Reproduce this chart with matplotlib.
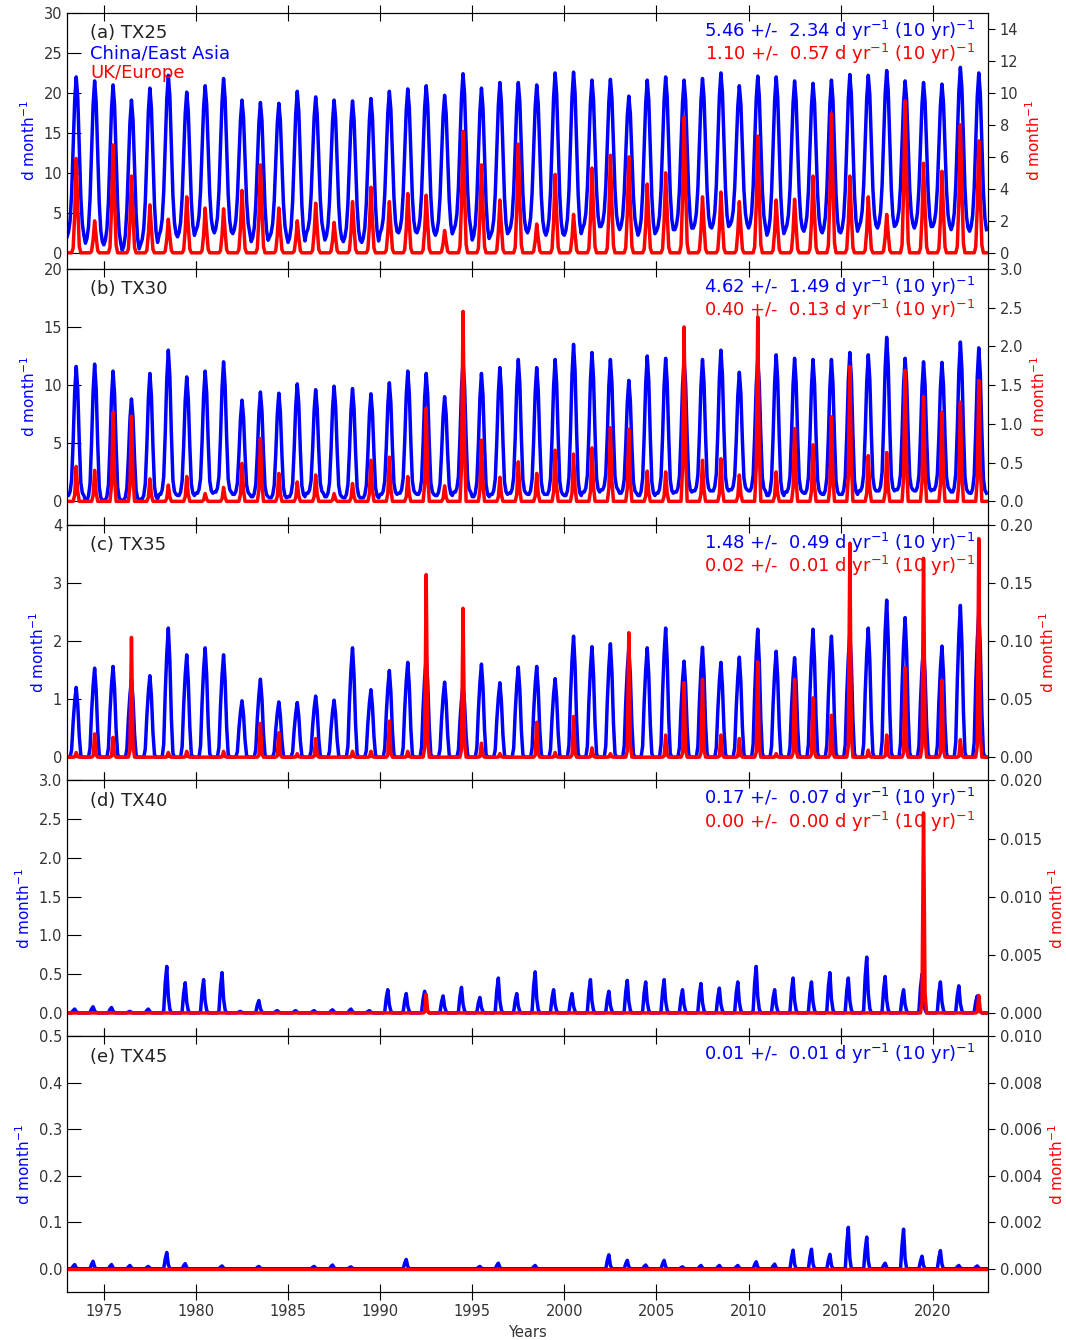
import numpy as np
import matplotlib
matplotlib.use("Agg")
import matplotlib.pyplot as plt
from matplotlib.ticker import FormatStrFormatter

years = np.arange(1973, 2023)

# annual summer maxima / winter minima (d month-1)
tx25_cea_peak = [22.0, 21.5, 21.0, 19.1, 20.6, 22.2, 20.1, 20.9, 21.8, 19.1,
                 18.8, 18.7, 20.2, 19.5, 19.1, 19.0, 19.3, 20.2, 20.5, 20.9,
                 19.7, 22.4, 20.6, 21.3, 21.3, 21.0, 22.5, 22.6, 21.6, 21.7,
                 19.6, 21.6, 22.0, 21.6, 21.8, 22.5, 20.9, 22.1, 22.0, 21.5,
                 21.2, 21.6, 22.3, 22.2, 22.8, 21.5, 21.3, 21.1, 23.2, 22.5]
tx25_cea_low = [2.0, 1.2, 1.0, 0.3, 1.1, 2.2, 2.0, 2.8, 2.5, 2.4,
                1.4, 2.0, 1.3, 2.5, 1.6, 1.4, 1.3, 2.5, 2.5, 2.5,
                2.2, 2.9, 1.6, 2.2, 2.7, 2.5, 2.2, 2.2, 3.1, 3.3,
                2.9, 2.2, 2.7, 2.9, 3.1, 3.1, 3.5, 3.1, 2.2, 2.9,
                2.7, 2.5, 2.5, 3.3, 3.1, 3.5, 3.1, 3.3, 2.9, 2.7]
tx25_uke_peak = [5.9, 2.0, 6.75, 4.8, 3.0, 2.1, 3.5, 2.8, 2.75, 3.9,
                 5.5, 2.8, 2.0, 3.1, 1.9, 3.2, 4.1, 3.2, 3.7, 3.6,
                 1.4, 7.6, 5.5, 3.3, 6.8, 1.8, 4.9, 2.4, 5.3, 6.1,
                 6.0, 4.3, 5.0, 8.5, 3.5, 3.8, 3.2, 7.3, 3.3, 3.35,
                 4.8, 8.7, 4.8, 3.5, 2.4, 9.5, 5.6, 5.1, 8.0, 7.0]

tx30_cea_peak = [11.6, 11.8, 11.2, 8.8, 11.0, 13.0, 10.7, 11.2, 12.0, 8.7,
                 9.4, 9.3, 10.1, 9.6, 9.9, 9.7, 9.25, 10.2, 11.2, 11.0,
                 9.0, 12.0, 11.0, 11.5, 12.2, 11.5, 12.2, 13.5, 12.8, 12.2,
                 10.4, 12.5, 12.3, 12.2, 12.2, 13.0, 11.1, 12.2, 12.6, 12.3,
                 12.2, 12.2, 12.8, 12.6, 14.1, 12.3, 12.0, 11.95, 13.7, 13.2]
tx30_cea_low = [0.5, 0.1, 0.1, 0.1, 0.2, 0.6, 0.5, 0.7, 0.8, 0.6,
                0.4, 0.3, 0.4, 0.7, 0.4, 0.3, 0.3, 0.6, 0.7, 0.6,
                0.5, 0.8, 0.4, 0.6, 0.7, 0.6, 0.6, 0.5, 0.8, 1.0,
                0.7, 0.5, 0.7, 0.8, 0.9, 0.9, 1.0, 0.9, 0.5, 0.8,
                0.7, 0.6, 0.6, 0.9, 0.9, 1.0, 0.9, 1.0, 0.8, 0.7]
tx30_uke_peak = [0.45, 0.40, 1.15, 1.1, 0.29, 0.21, 0.32, 0.1, 0.18, 0.49,
                 0.81, 0.36, 0.25, 0.34, 0.1, 0.23, 0.53, 0.57, 0.32, 1.2,
                 0.2, 2.45, 0.79, 0.31, 0.51, 0.36, 0.66, 0.61, 0.69, 0.95,
                 0.93, 0.39, 0.38, 2.25, 0.53, 0.55, 0.34, 2.38, 0.38, 0.94,
                 0.73, 1.09, 1.74, 0.59, 0.63, 1.69, 1.35, 1.15, 1.28, 1.56]

tx35_cea_peak = [1.2, 1.53, 1.56, 1.34, 1.4, 2.22, 1.76, 1.88, 1.76, 0.97,
                 1.34, 0.95, 0.94, 1.05, 0.98, 1.88, 1.16, 1.49, 1.63, 1.71,
                 1.29, 1.24, 1.6, 1.28, 1.55, 1.56, 1.35, 2.08, 1.9, 1.95,
                 1.88, 1.88, 2.22, 1.65, 1.89, 1.63, 1.72, 2.2, 1.82, 1.71,
                 2.2, 2.08, 2.14, 2.22, 2.7, 2.4, 1.91, 1.91, 2.61, 2.5]
tx35_uke_peak = [0.004, 0.02, 0.017, 0.103, 0.0, 0.004, 0.005, 0.0, 0.005, 0.0,
                 0.029, 0.021, 0.003, 0.016, 0.0, 0.005, 0.005, 0.031, 0.005, 0.157,
                 0.0, 0.128, 0.012, 0.003, 0.0, 0.03, 0.004, 0.035, 0.008, 0.003,
                 0.107, 0.0, 0.019, 0.064, 0.067, 0.019, 0.016, 0.082, 0.003, 0.067,
                 0.051, 0.036, 0.184, 0.006, 0.019, 0.077, 0.171, 0.066, 0.015, 0.188]

tx40_cea_peak = [0.05, 0.08, 0.07, 0.02, 0.05, 0.6, 0.39, 0.43, 0.52, 0.02,
                 0.16, 0.03, 0.03, 0.03, 0.04, 0.05, 0.03, 0.3, 0.25, 0.28,
                 0.22, 0.33, 0.2, 0.45, 0.25, 0.53, 0.3, 0.25, 0.43, 0.28,
                 0.42, 0.4, 0.43, 0.3, 0.38, 0.32, 0.4, 0.6, 0.3, 0.45,
                 0.4, 0.52, 0.45, 0.72, 0.47, 0.3, 0.5, 0.4, 0.35, 0.22]
tx40_uke_peak = [0.0, 0.0, 0.0, 0.0, 0.0, 0.0, 0.0, 0.0, 0.0, 0.0,
                 0.0, 0.0, 0.0, 0.0, 0.0, 0.0, 0.0, 0.0, 0.0, 0.0016,
                 0.0, 0.0, 0.0, 0.0, 0.0, 0.0, 0.0, 0.0, 0.0, 0.0,
                 0.0, 0.0, 0.0, 0.0, 0.0, 0.0, 0.0, 0.0, 0.0, 0.0,
                 0.0, 0.0, 0.0, 0.0, 0.0, 0.0, 0.0172, 0.0, 0.0, 0.0015]

tx45_cea_peak = [0.009, 0.016, 0.009, 0.007, 0.005, 0.035, 0.011, 0.0, 0.006, 0.0,
                 0.005, 0.0, 0.0, 0.005, 0.008, 0.004, 0.0, 0.0, 0.02, 0.0,
                 0.0, 0.0, 0.005, 0.012, 0.0, 0.007, 0.0, 0.0, 0.0, 0.03,
                 0.018, 0.008, 0.018, 0.004, 0.007, 0.007, 0.007, 0.015, 0.01, 0.04,
                 0.042, 0.031, 0.089, 0.068, 0.012, 0.085, 0.027, 0.039, 0.007, 0.006]
tx45_uke_peak = [0.0] * 50

# seasonal cycle (Jan..Dec, fraction of the summer maximum)
season_tx25_cea = [0, 0.03, 0.1, 0.27, 0.55, 0.85, 1.0, 0.87, 0.55, 0.25, 0.08, 0.01]
season_tx30_cea = [0, 0, 0.03, 0.12, 0.42, 0.8, 1.0, 0.82, 0.42, 0.1, 0.02, 0]
season_tx35_cea = [0, 0, 0, 0.1, 0.5, 0.8, 1.0, 0.75, 0.3, 0.03, 0, 0]
season_tx40_cea = [0, 0, 0, 0.05, 0.65, 1.0, 0.35, 0.08, 0, 0, 0, 0]
season_tx45_cea = [0, 0, 0, 0, 0.6, 1.0, 0.25, 0, 0, 0, 0, 0]
season_tx25_uke = [0, 0, 0, 0, 0.05, 0.4, 1.0, 0.5, 0.07, 0, 0, 0]
season_tx30_uke = [0, 0, 0, 0, 0, 0.18, 1.0, 0.28, 0, 0, 0, 0]
season_tx35_uke = [0, 0, 0, 0, 0, 0.05, 1.0, 0.1, 0, 0, 0, 0]

trend_cea = ["5.46 +/-  2.34", "4.62 +/-  1.49", "1.48 +/-  0.49",
             "0.17 +/-  0.07", "0.01 +/-  0.01"]
trend_uke = ["1.10 +/-  0.57", "0.40 +/-  0.13", "0.02 +/-  0.01",
             "0.00 +/-  0.00", None]
titles = ["(a) TX25", "(b) TX30", "(c) TX35", "(d) TX40", "(e) TX45"]


def monthly(peaks, season, low=None):
    out = []
    for i, p in enumerate(peaks):
        b = 0.0 if low is None else low[i]
        out.extend(b + (p - b) * s for s in season)
    return np.array(out)


t = np.repeat(years, 12) + np.tile(np.arange(12), len(years)) / 12.0

cea = [monthly(tx25_cea_peak, season_tx25_cea, tx25_cea_low),
       monthly(tx30_cea_peak, season_tx30_cea, tx30_cea_low),
       monthly(tx35_cea_peak, season_tx35_cea),
       monthly(tx40_cea_peak, season_tx40_cea),
       monthly(tx45_cea_peak, season_tx45_cea)]
uke = [monthly(tx25_uke_peak, season_tx25_uke),
       monthly(tx30_uke_peak, season_tx30_uke),
       monthly(tx35_uke_peak, season_tx35_uke),
       monthly(tx40_uke_peak, season_tx35_uke),
       monthly(tx45_uke_peak, season_tx35_uke)]

left_lim = [(-2, 30), (-2, 20), (-0.4, 4), (-0.3, 3.0), (-0.05, 0.5)]
left_ticks = [np.arange(0, 31, 5), np.arange(0, 21, 5), np.arange(0, 5, 1),
              np.arange(0, 3.01, 0.5), np.arange(0, 0.501, 0.1)]
left_fmt = ["%d", "%d", "%d", "%.1f", "%.1f"]
right_lim = [(-1, 15), (-0.3, 3.0), (-0.02, 0.2), (-0.002, 0.02), (-0.001, 0.01)]
right_ticks = [np.arange(0, 15, 2), np.arange(0, 3.01, 0.5), np.arange(0, 0.201, 0.05),
               np.arange(0, 0.0201, 0.005), np.arange(0, 0.01001, 0.002)]
right_fmt = ["%d", "%.1f", "%.2f", "%.3f", "%.3f"]

fig = plt.figure(figsize=(10.66, 13.4), dpi=100)
x0, w = 67 / 1066, 921 / 1066
top, bot = 1 - 13 / 1340, 1 - 1292 / 1340
h = (top - bot) / 5
tc = "#333333"
lw = 2.5

for i in range(5):
    ax = fig.add_axes([x0, top - (i + 1) * h, w, h])
    ax.plot(t, cea[i], color="blue", lw=lw)
    ax.set_xlim(1973, 2023)
    ax.set_ylim(*left_lim[i])
    ax.set_yticks(left_ticks[i])
    ax.yaxis.set_major_formatter(FormatStrFormatter(left_fmt[i]))
    ax.set_xticks(np.arange(1975, 2021, 5))
    ax.tick_params(axis="x", direction="inout", length=11, top=True, bottom=True,
                   labelsize=10.5, labelcolor=tc)
    ax.tick_params(axis="y", direction="in", length=10, labelsize=10.5, labelcolor=tc)
    if i < 4:
        ax.tick_params(axis="x", labelbottom=False)
    ax.set_ylabel("d month$^{-1}$", color="blue", fontsize=11)

    ax2 = ax.twinx()
    ax2.plot(t, uke[i], color="red", lw=lw)
    ax2.set_ylim(*right_lim[i])
    ax2.set_yticks(right_ticks[i])
    ax2.yaxis.set_major_formatter(FormatStrFormatter(right_fmt[i]))
    ax2.tick_params(axis="y", direction="out", length=5, labelsize=10.5, labelcolor=tc)
    ax2.set_ylabel("d month$^{-1}$", color="red", fontsize=11)

    ax.text(0.025, 0.92, titles[i], transform=ax.transAxes, fontsize=13,
            color="#222222", va="center")
    ax.text(0.986, 0.93, trend_cea[i] + " d yr$^{-1}$ (10 yr)$^{-1}$",
            transform=ax.transAxes, fontsize=13, color="blue", ha="right", va="center")
    if trend_uke[i] is not None:
        ax.text(0.986, 0.838, trend_uke[i] + " d yr$^{-1}$ (10 yr)$^{-1}$",
                transform=ax.transAxes, fontsize=13, color="red", ha="right", va="center")
    if i == 0:
        ax.text(0.025, 0.842, "China/East Asia", transform=ax.transAxes,
                fontsize=13, color="blue", va="center")
        ax.text(0.025, 0.764, "UK/Europe", transform=ax.transAxes,
                fontsize=13, color="red", va="center")
    if i == 4:
        ax.set_xlabel("Years", fontsize=10.5, color=tc)

fig.savefig("out.png", dpi=100)
